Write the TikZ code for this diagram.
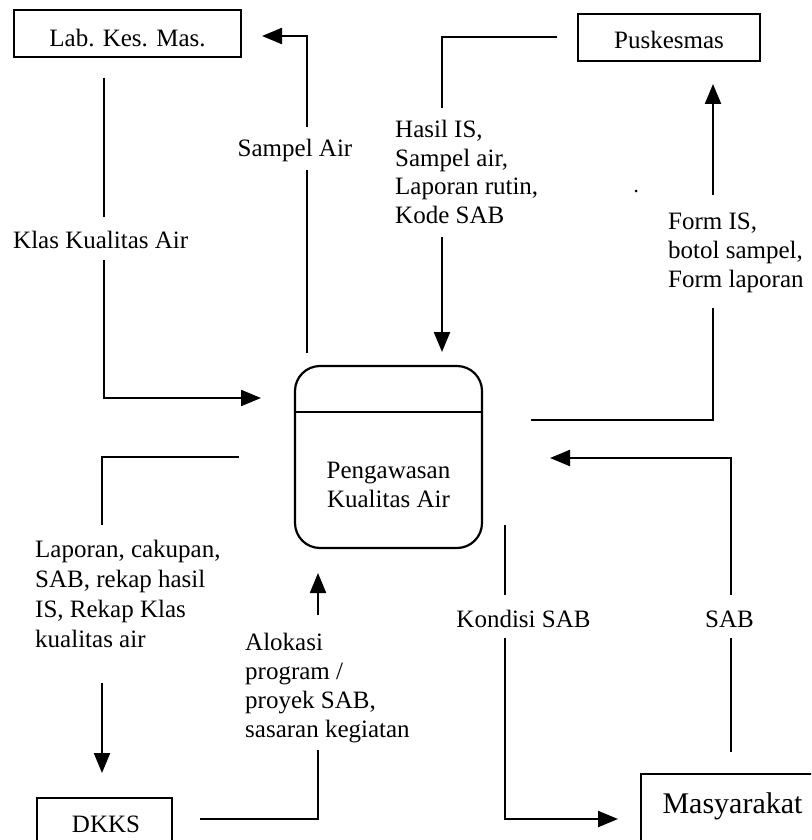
\documentclass[tikz,border=0pt]{standalone}
\usepackage{fontspec}
\setmainfont{Liberation Serif}
\usetikzlibrary{arrows.meta}
\begin{document}
\begin{tikzpicture}[x=1pt,y=-1pt,
  txt/.style={font=\fontsize{25}{29}\selectfont, inner sep=0pt},
  frame/.style={draw, line width=2.2pt, inner sep=0pt},
  flow/.style={line width=2.2pt},
  tip/.style={-{Triangle[length=20pt,width=16pt]}}]
\useasboundingbox (0,0) rectangle (811,840);
\clip (0,0) rectangle (811,840);

% external entities and the process
\node[frame, txt, minimum width=227pt, minimum height=47pt, text height=26pt, text depth=0pt]
  (lab) at (127.5,33.5) {Lab. Kes. Mas.};
\node[frame, txt, minimum width=182pt, minimum height=47pt, text height=23pt, text depth=0pt]
  (pus) at (669,37.5) {Puskesmas};
\node[frame, rounded corners=25pt, minimum width=187pt, minimum height=182pt]
  (proc) at (388.5,457) {};
\coordinate (divy) at (0,412);
\draw[line width=2.2pt] (proc.west |- divy) -- (proc.east |- divy);
\node[txt, align=center, anchor=north, font=\fontsize{25}{29}\selectfont]
  (proctext) at (388.5,461.5) {Pengawasan\\Kualitas Air};
\node[frame, anchor=north west, minimum width=135pt, minimum height=100pt] (dkks) at (36,797) {};
\node[txt, anchor=base] (dkkstext) at (106,832) {DKKS};
\node[frame, anchor=north west, minimum width=200pt, minimum height=100pt] (mas) at (640,773) {};
\node[inner sep=0pt, font=\fontsize{30}{34}\selectfont, anchor=base] (mastext) at (732.5,813) {Masyarakat};

% flow labels
\node[txt, anchor=base] (lSampel) at (295,157) {Sampel Air};
\node[txt, anchor=base west] (lKlas) at (13,248) {Klas Kualitas Air};
\node[txt, anchor=north west, align=left, font=\fontsize{25}{28.5}\selectfont]
  (lHasil) at (395,120) {Hasil IS,\\Sampel air,\\Laporan rutin,\\Kode SAB};
\node[txt, anchor=north west, align=left, font=\fontsize{25}{29}\selectfont]
  (lForm) at (668,212.5) {Form IS,\\botol sampel,\\Form laporan};
\node[txt, anchor=north west, align=left, font=\fontsize{25}{30}\selectfont]
  (lLap) at (35,540) {Laporan, cakupan,\\SAB, rekap hasil\\IS, Rekap Klas\\kualitas air};
\node[txt, anchor=north west, align=left, font=\fontsize{25}{29}\selectfont]
  (lAlok) at (245,633) {Alokasi\\program /\\proyek SAB,\\sasaran kegiatan};
\node[txt, anchor=base] (lKond) at (523.5,627) {Kondisi SAB};
\node[txt, anchor=base] (lSAB) at (729.5,627) {SAB};

% Sampel Air: process -> Lab
\coordinate (a1) at (307,353); \coordinate (a2) at (307,170);
\coordinate (a3) at (307,127); \coordinate (a4) at (262,36);
\draw[flow] (a1) -- (a2);
\draw[flow, tip] (a3) |- (a4);

% Klas Kualitas Air: Lab -> process
\coordinate (b1) at (104,78); \coordinate (b2) at (104,217);
\coordinate (b3) at (104,260); \coordinate (b4) at (261,398);
\draw[flow] (b1) -- (b2);
\draw[flow, tip] (b3) |- (b4);

% Hasil IS ...: Puskesmas -> process
\coordinate (c1) at (557,37); \coordinate (c2) at (442,108);
\coordinate (c3) at (442,237); \coordinate (c4) at (442,352);
\draw[flow] (c1) -| (c2);
\draw[flow, tip] (c3) -- (c4);

% Form IS ...: process -> Puskesmas
\coordinate (d1) at (531,420); \coordinate (d2) at (713,308);
\coordinate (d3) at (713,195); \coordinate (d4) at (713,84);
\draw[flow] (d1) -| (d2);
\draw[flow, tip] (d3) -- (d4);

% SAB: Masyarakat -> process
\coordinate (e1) at (731,752); \coordinate (e2) at (731,638);
\coordinate (e3) at (731,595); \coordinate (e4) at (550,458);
\draw[flow] (e1) -- (e2);
\draw[flow, tip] (e3) |- (e4);

% Kondisi SAB: process -> Masyarakat
\coordinate (f1) at (505,525); \coordinate (f2) at (505,595);
\coordinate (f3) at (505,638); \coordinate (f4) at (618,819);
\draw[flow] (f1) -- (f2);
\draw[flow, tip] (f3) |- (f4);

% Laporan ...: process -> DKKS
\coordinate (g1) at (239,457); \coordinate (g2) at (102,525);
\coordinate (g3) at (102,683); \coordinate (g4) at (102,773);
\draw[flow] (g1) -| (g2);
\draw[flow, tip] (g3) -- (g4);

% Alokasi ...: DKKS -> process
\coordinate (h1) at (200,819); \coordinate (h2) at (318,750);
\coordinate (h3) at (318,615); \coordinate (h4) at (318,573);
\draw[flow] (h1) -| (h2);
\draw[flow, tip] (h3) -- (h4);

% small printed dot
\fill (636,191) circle (1.5pt);
\end{tikzpicture}
\end{document}
